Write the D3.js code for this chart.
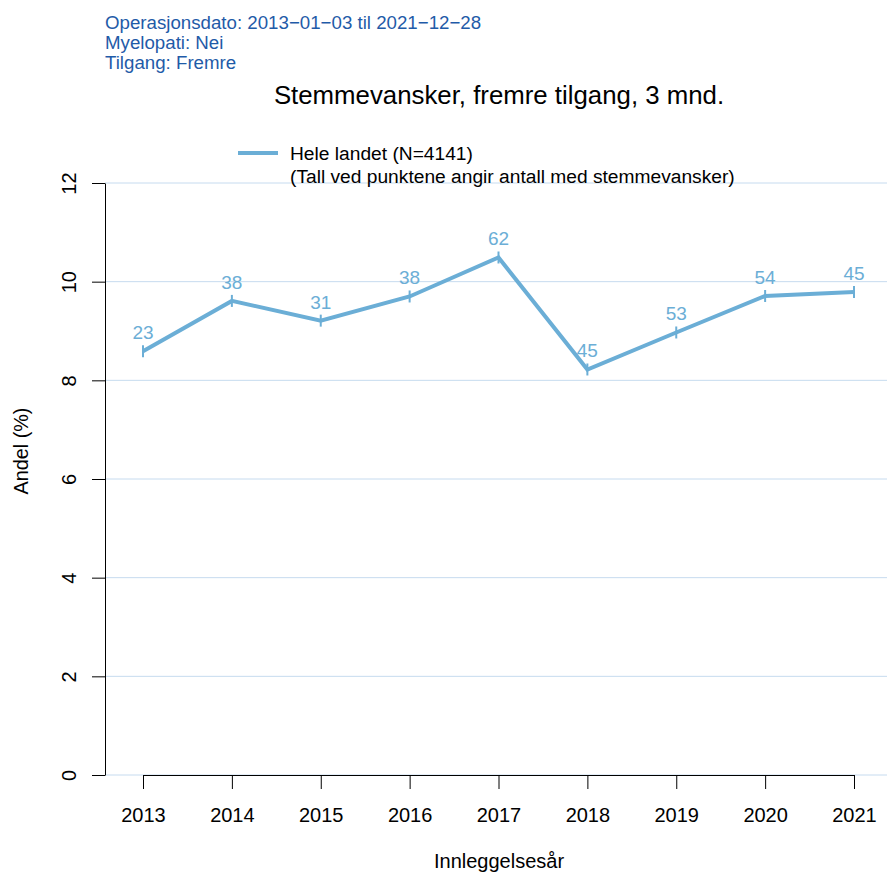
<!DOCTYPE html>
<html><head><meta charset="utf-8">
<script src="https://cdn.jsdelivr.net/npm/d3@7"></script>
<style>body{margin:0;background:#fff}svg{display:block;font-family:"Liberation Sans",Arial,sans-serif}svg text{font-family:"Liberation Sans",Arial,sans-serif}</style>
</head><body>
<svg id="c" width="887" height="872"></svg>
<script>
const years = [2013, 2014, 2015, 2016, 2017, 2018, 2019, 2020, 2021];
const shares = [8.59, 9.61, 9.21, 9.70, 10.49, 8.22, 8.97, 9.71, 9.79];
const counts = [23, 38, 31, 38, 62, 45, 53, 54, 45];
const yTicks = [0, 2, 4, 6, 8, 10, 12];
const infoLines = ["Operasjonsdato: 2013\u221201\u221203 til 2021\u221212\u221228", "Myelopati: Nei", "Tilgang: Fremre"];
const title = "Stemmevansker, fremre tilgang, 3 mnd.";
const legendLines = ["Hele landet (N=4141)", "(Tall ved punktene angir antall med stemmevansker)"];

const lineCol = "#6baed6", gridCol = "#c6dbef", infoCol = "#1f5ba8";
const svg = d3.select("#c");
const x = d3.scalePoint().domain(years).range([143, 854]);
const y = d3.scaleLinear().domain([0, 12]).range([775, 183]);

// gridlines
svg.append("g").selectAll("line").data(yTicks).join("line")
  .attr("x1", 105).attr("x2", 887).attr("y1", d => y(d)).attr("y2", d => y(d))
  .attr("stroke", gridCol).attr("stroke-width", 1);

// y axis
const ya = svg.append("g").attr("transform", "translate(105,0)")
  .call(d3.axisLeft(y).tickValues(yTicks).tickSize(13).tickSizeOuter(0).tickPadding(0));
ya.select(".domain").attr("stroke", "#000");
ya.selectAll(".tick line").attr("stroke", "#000");
ya.selectAll(".tick text").remove();
ya.selectAll(".tick").append("text")
  .attr("transform", "translate(-29,0) rotate(-90)")
  .attr("text-anchor", "middle")
  .attr("fill", "#000").style("font-size", "20px")
  .text(d => d);

// x axis
const xa = svg.append("g").attr("transform", "translate(0,775)")
  .call(d3.axisBottom(x).tickSize(14).tickSizeOuter(0).tickPadding(0));
xa.select(".domain").attr("stroke", "#000");
xa.selectAll(".tick line").attr("stroke", "#000");
xa.selectAll(".tick text").attr("y", 47).attr("dy", null)
  .attr("fill", "#000").style("font-size", "20px");

// line
svg.append("path").datum(years.map((d, i) => [d, shares[i]]))
  .attr("fill", "none").attr("stroke", lineCol).attr("stroke-width", 4)
  .attr("stroke-linejoin", "miter")
  .attr("d", d3.line().x(d => x(d[0])).y(d => y(d[1])));

// point markers
svg.append("g").selectAll("line").data(years).join("line")
  .attr("x1", d => x(d)).attr("x2", d => x(d))
  .attr("y1", (d, i) => y(shares[i]) - 6).attr("y2", (d, i) => y(shares[i]) + 6)
  .attr("stroke", lineCol).attr("stroke-width", 2);

// count labels
svg.append("g").selectAll("text").data(years).join("text")
  .attr("x", d => x(d)).attr("y", (d, i) => y(shares[i]) - 12)
  .attr("text-anchor", "middle").attr("fill", lineCol).style("font-size", "19px")
  .text((d, i) => counts[i]);

// info lines
svg.append("g").selectAll("text").data(infoLines).join("text")
  .attr("x", 105).attr("y", (d, i) => 28.5 + i * 20)
  .attr("fill", infoCol).style("font-size", "18.7px").text(d => d);

// title
svg.append("text").attr("x", 499).attr("y", 104).attr("text-anchor", "middle")
  .attr("fill", "#000").style("font-size", "25.8px").text(title);

// legend
svg.append("line").attr("x1", 238).attr("x2", 278).attr("y1", 153).attr("y2", 153)
  .attr("stroke", lineCol).attr("stroke-width", 4);
svg.append("g").selectAll("text").data(legendLines).join("text")
  .attr("x", 290).attr("y", (d, i) => 160 + i * 23)
  .attr("fill", "#000").style("font-size", "19.2px").text(d => d);

// axis titles
svg.append("text").attr("transform", "translate(28,451) rotate(-90)")
  .attr("text-anchor", "middle").attr("fill", "#000").style("font-size", "19.8px").text("Andel (%)");
svg.append("text").attr("x", 499).attr("y", 868).attr("text-anchor", "middle")
  .attr("fill", "#000").style("font-size", "20px").text("Innleggelsesår");
</script>
</body></html>
